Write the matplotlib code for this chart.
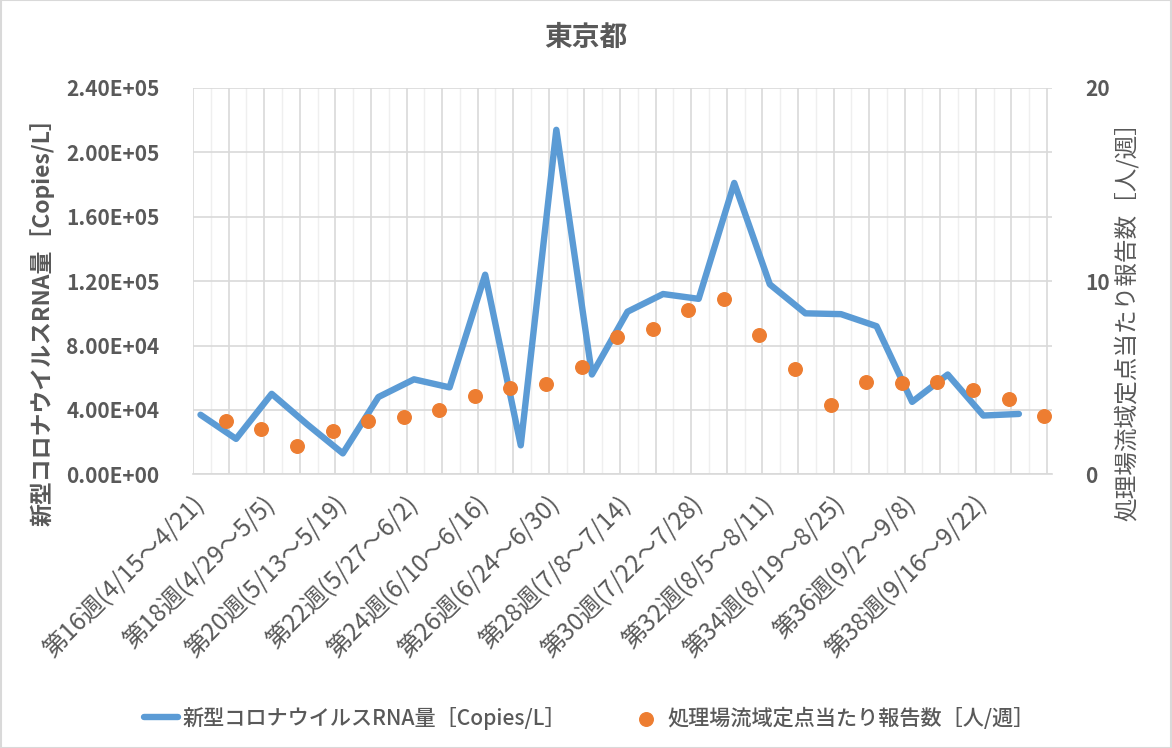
import numpy as np
import matplotlib.pyplot as plt
from matplotlib.ticker import FuncFormatter, MultipleLocator
from matplotlib.patches import Rectangle

plt.rcParams['font.family'] = ['Noto Sans CJK JP', 'DejaVu Sans']

# data
weeks = list(range(16, 40))
rna = [37000, 22000, 50000, 31000, 13000, 48000, 59000, 54000, 124000, 18000,
       214000, 62000, 101000, 112000, 109000, 181000, 118000, 100000, 99500,
       92000, 45000, 62000, 36500, 37500]
reports = [2.76, 2.35, 1.48, 2.26, 2.78, 2.98, 3.33, 4.07, 4.49, 4.68, 5.58,
           7.13, 7.53, 8.48, 9.08, 7.23, 5.47, 3.59, 4.80, 4.73, 4.80, 4.38,
           3.92, 3.02]
label_weeks = list(range(16, 39, 2))
week_labels = ['第16週(4/15～4/21)', '第18週(4/29～5/5)', '第20週(5/13～5/19)',
               '第22週(5/27～6/2)', '第24週(6/10～6/16)', '第26週(6/24～6/30)',
               '第28週(7/8～7/14)', '第30週(7/22～7/28)', '第32週(8/5～8/11)',
               '第34週(8/19～8/25)', '第36週(9/2～9/8)', '第38週(9/16～9/22)']

title = '東京都'
rna_name = '新型コロナウイルスRNA量［Copies/L］'
rep_name = '処理場流域定点当たり報告数［人/週］'

txt = '#595959'
grid = '#d9d9d9'
blue = '#5B9BD5'
orange = '#ED7D31'

w0 = weeks[0]
x_line = np.array(weeks) - w0 + 0.21
x_dot = np.array(weeks) - w0 + 0.92

fig = plt.figure(figsize=(11.72, 7.48), dpi=100)
ax = fig.add_axes([0.1647, 0.3659, 0.7329, 0.5165])
ax2 = ax.twinx()

ax.set_xlim(0, 24.14)
ax.set_ylim(0, 240000)
ax2.set_ylim(0, 20)

ax.xaxis.set_major_locator(MultipleLocator(1))
ax.xaxis.set_minor_locator(MultipleLocator(0.5))
ax.yaxis.set_major_locator(MultipleLocator(40000))
ax2.yaxis.set_major_locator(MultipleLocator(10))

ax.grid(True, which='major', color=grid, lw=1.2)
ax.grid(True, which='minor', axis='x', color='#efefef', lw=1.0)
ax.set_axisbelow(True)
ax.tick_params(axis='x', which='both', length=0, labelbottom=False)

# week labels on a secondary x axis so the gridlines stay independent
sec = ax.secondary_xaxis('bottom')
sec.set_xticks(np.array(label_weeks) - w0 + 0.21)
sec.set_xticklabels(week_labels, rotation=45, ha='right', va='center',
                    rotation_mode='anchor', fontsize=17.5, color=txt)
sec.tick_params(length=0, pad=19)
sec.spines['bottom'].set_visible(False)

ax.yaxis.set_major_formatter(FuncFormatter(lambda v, p: f'{v:.2E}'))
ax.tick_params(axis='y', length=0, pad=24, labelsize=15, labelcolor=txt)
for t in ax.get_yticklabels():
    t.set_fontweight('bold')
ax2.tick_params(axis='y', length=0, pad=24, labelsize=15, labelcolor=txt)
for t in ax2.get_yticklabels():
    t.set_fontweight('bold')

for a in (ax, ax2):
    for s in a.spines.values():
        s.set_visible(False)
ax.spines['bottom'].set_visible(True)
ax.spines['bottom'].set_color(grid)
ax.spines['bottom'].set_linewidth(1.2)

line, = ax.plot(x_line, rna, color=blue, lw=4.6, solid_joinstyle='round',
                solid_capstyle='round', label=rna_name, zorder=3)
dots = ax2.scatter(x_dot, reports, s=95, color=orange, label=rep_name, zorder=4)

ax.set_ylabel(rna_name, fontsize=16.5, fontweight='bold', color=txt, labelpad=8)
ax2.set_ylabel(rep_name, fontsize=17, color=txt, labelpad=3)
ax.yaxis.label.set_y(0.41)
ax2.yaxis.label.set_y(0.41)

fig.text(0.5, 0.949, title, ha='center', va='center', fontsize=20,
         fontweight='bold', color=txt)

fig.legend([line, dots], [rna_name, rep_name], loc='center',
           bbox_to_anchor=(0.503, 0.04), ncol=2, frameon=False,
           prop={'size': 15.2, 'weight': 'medium'},
           handlelength=1.6, handletextpad=0.2, columnspacing=3.0,
           labelcolor=txt)

fig.patches.append(Rectangle((0.0005, 0.0005), 0.999, 0.999, transform=fig.transFigure,
                             fill=False, edgecolor=grid, lw=1.5))

fig.savefig('out.png', dpi=100)
